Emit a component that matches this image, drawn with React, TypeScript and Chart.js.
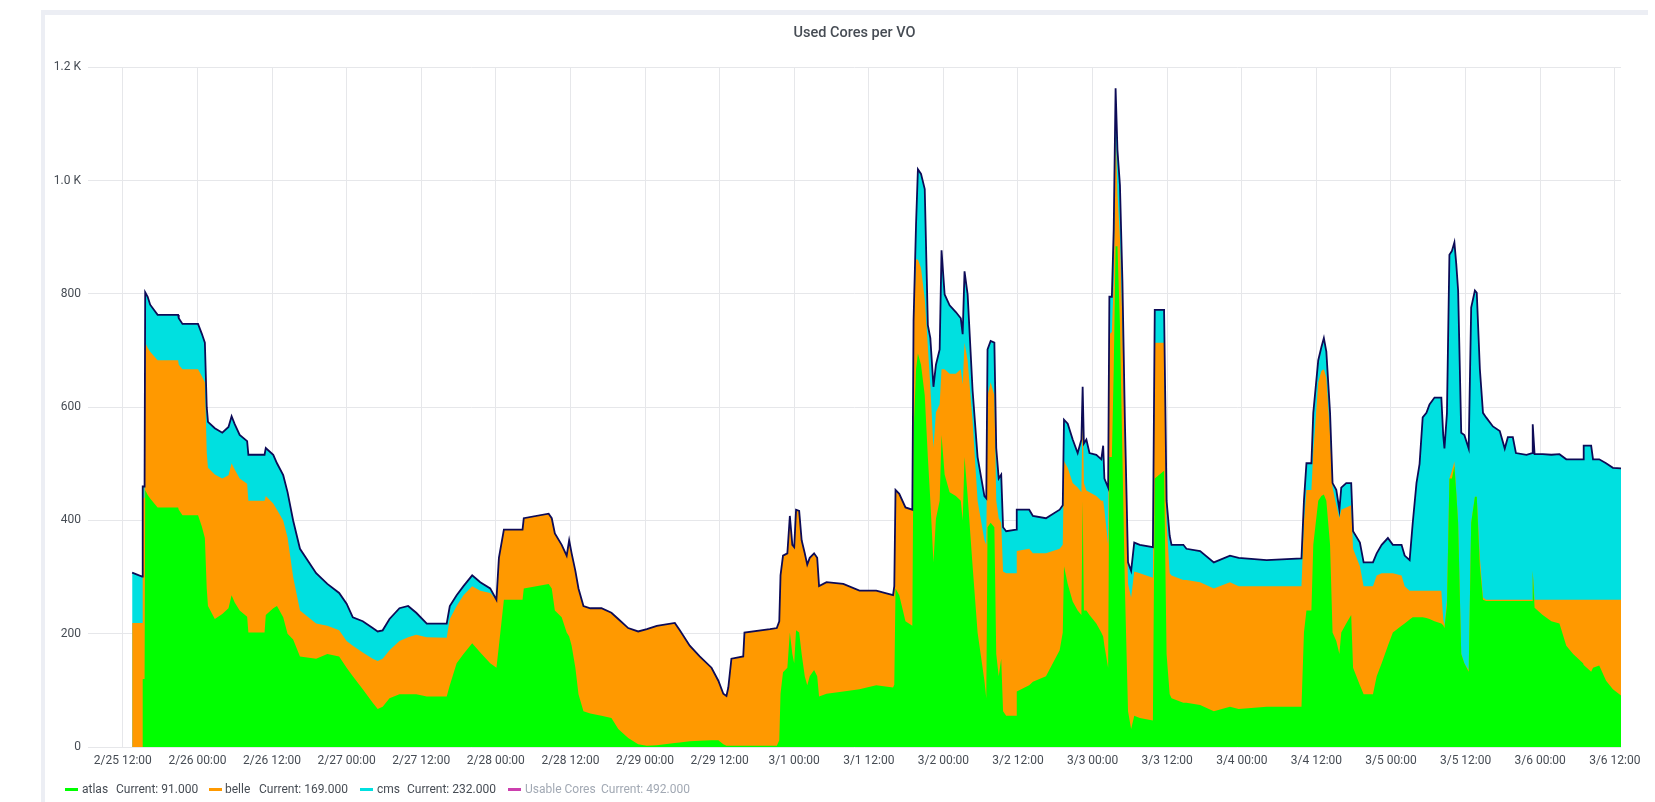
import React, { useEffect, useRef } from 'react';
import { Chart, registerables } from 'chart.js';

Chart.register(...registerables);

// time axis: hours since 2/25 00:00
const hours = [
  13.5, 15.1, 15.2, 15.5, 15.6, 16.0, 16.4, 17.6, 20.9, 21.0,
  21.6, 24.1, 24.7, 25.2, 25.5, 25.7, 26.8, 28.0, 29.0, 29.5,
  30.0, 30.8, 32.0, 32.2, 34.8, 35.0, 36.2, 36.8, 37.8, 38.5,
  39.4, 40.5, 43.1, 44.9, 46.8, 48.0, 49.0, 50.6, 52.2, 53.0,
  53.8, 54.9, 56.5, 57.9, 59.2, 60.9, 64.1, 64.6, 65.7, 66.8,
  68.2, 69.5, 71.1, 72.1, 72.5, 73.3, 76.3, 76.5, 80.5, 81.0,
  81.5, 82.6, 83.4, 83.8, 84.2, 84.8, 85.3, 86.1, 87.2, 89.0,
  90.6, 91.7, 93.3, 94.9, 96.3, 97.9, 100.8, 101.6, 103.2, 104.8,
  106.7, 107.8, 108.6, 109.1, 109.4, 109.9, 111.8, 112.0, 116.1, 117.2,
  117.6, 117.8, 118.2, 118.9, 119.3, 119.7, 120.0, 120.3, 120.8, 121.2,
  121.7, 122.1, 122.5, 123.2, 123.7, 124.0, 125.2, 127.9, 130.5, 133.2,
  135.9, 136.1, 136.3, 136.9, 137.9, 139.0, 139.2, 139.6, 139.9, 140.4,
  141.0, 141.5, 141.9, 142.4, 142.8, 143.4, 143.7, 144.2, 145.0, 146.0,
  146.8, 147.1, 147.4, 147.9, 148.7, 149.5, 150.6, 150.9, 151.1, 151.6,
  152.2, 152.5, 152.9, 153.3, 153.6, 154.1, 155.7, 155.8, 157.8, 158.4,
  160.5, 162.7, 163.2, 163.4, 164.0, 164.8, 165.6, 166.2, 166.4, 166.6,
  167.0, 167.5, 168.6, 169.4, 169.7, 169.9, 170.5, 170.7, 171.1, 171.4,
  171.7, 172.0, 172.4, 172.8, 173.2, 173.7, 174.2, 174.7, 175.6, 177.7,
  178.0, 179.5, 179.9, 180.4, 180.7, 182.6, 183.1, 185.3, 187.5, 190.1,
  191.5, 196.0, 201.6, 202.0, 202.4, 203.2, 203.5, 204.3, 204.8, 205.2,
  205.6, 206.2, 206.6, 207.2, 207.7, 208.0, 208.8, 209.6, 209.9, 211.0,
  211.6, 213.1, 213.7, 214.5, 215.5, 216.3, 217.7, 218.2, 219.0, 219.5,
  220.1, 220.6, 221.1, 221.7, 222.2, 223.0, 224.1, 224.4, 224.6, 225.0,
  225.4, 225.8, 226.2, 226.5, 226.8, 227.3, 227.8, 228.5, 228.9, 229.5,
  229.8, 230.3, 230.8, 231.3, 232.4, 233.5, 234.3, 234.8, 235.6, 236.1,
  237.8, 238.7, 238.8, 239.1, 240.4, 241.8, 243.1, 244.2, 245.3, 246.9,
  247.0, 248.2, 248.5, 249.5, 250.6, 251.7, 253.0,
];

const atlas = [
  0, 0, 120, 120, 454, 445, 439, 423, 423, 419,
  409, 409, 390, 369, 280, 249, 226, 235, 245, 268,
  255, 241, 230, 202, 202, 233, 245, 249, 229, 200,
  190, 160, 156, 164, 160, 140, 125, 102, 78, 67,
  71, 86, 93, 93, 93, 89, 89, 109, 148, 164,
  183, 167, 148, 140, 179, 260, 260, 280, 288, 280,
  241, 229, 202, 195, 179, 140, 93, 63, 59, 55,
  51, 32, 16, 5, 2, 3, 7, 8, 10, 11,
  12, 12, 5, 2, 2, 2, 2, 2, 2, 2,
  12, 94, 132, 140, 202, 164, 148, 206, 202, 164,
  125, 109, 125, 136, 125, 89, 94, 98, 102, 109,
  105, 110, 280, 268, 222, 214, 551, 667, 695, 675,
  621, 512, 435, 326, 403, 435, 551, 481, 450, 443,
  435, 400, 512, 443, 319, 202, 117, 86, 388, 396,
  388, 164, 125, 156, 63, 55, 55, 98, 109, 115,
  125, 171, 202, 319, 288, 257, 241, 233, 435, 241,
  241, 233, 218, 202, 195, 179, 140, 512, 512, 667,
  884, 884, 745, 512, 280, 63, 32, 55, 51, 47,
  474, 488, 164, 93, 86, 78, 78, 74, 63, 71,
  67, 71, 71, 202, 241, 241, 357, 435, 443, 446,
  435, 357, 202, 187, 164, 202, 218, 233, 140, 109,
  93, 93, 125, 148, 179, 202, 214, 218, 225, 229,
  229, 229, 229, 228, 226, 222, 218, 215, 210, 250,
  474, 474, 496, 450, 396, 164, 148, 133, 396, 442,
  442, 319, 260, 258, 258, 258, 258, 258, 258, 258,
  258, 258, 311, 246, 233, 222, 218, 179, 164, 148,
  145, 133, 140, 144, 117, 102, 91,
];

const belle = [
  219, 219, 320, 320, 260, 260, 259, 260, 260, 256,
  258, 258, 265, 275, 240, 244, 255, 239, 235, 233,
  235, 233, 235, 233, 233, 210, 185, 170, 171, 170,
  110, 81, 62, 50, 46, 47, 54, 65, 78, 85,
  85, 85, 94, 101, 105, 105, 104, 117, 101, 104,
  101, 109, 124, 120, 155, 124, 124, 124, 124, 124,
  136, 128, 136, 170, 163, 171, 187, 186, 186, 190,
  186, 194, 194, 199, 206, 211, 212, 198, 169, 149,
  128, 105, 89, 88, 103, 154, 158, 200, 206, 208,
  210, 209, 206, 202, 206, 193, 205, 213, 215, 201,
  217, 213, 209, 206, 209, 195, 197, 190, 174, 167,
  163, 174, 174, 179, 201, 205, 189, 194, 166, 171,
  170, 195, 201, 202, 188, 170, 116, 186, 209, 216,
  232, 240, 202, 240, 255, 233, 248, 271, 233, 248,
  233, 271, 279, 240, 247, 252, 252, 248, 241, 227,
  217, 179, 155, 186, 205, 209, 217, 217, 170, 225,
  212, 217, 225, 233, 240, 240, 217, 217, 221, 155,
  210, 93, 154, 232, 232, 225, 232, 255, 256, 252,
  240, 226, 232, 214, 217, 217, 217, 217, 217, 220,
  217, 213, 213, 194, 213, 213, 163, 209, 221, 221,
  217, 194, 256, 240, 240, 217, 205, 194, 210, 210,
  191, 191, 178, 159, 128, 105, 89, 66, 51, 47,
  47, 47, 47, 48, 50, 54, 58, 11, 4, 10,
  0, 14, 8, 0, 0, 0, 0, 3, 0, 0,
  0, 15, 4, 2, 2, 2, 2, 2, 2, 2,
  2, 2, 0, 14, 27, 38, 42, 81, 96, 112,
  115, 127, 120, 116, 143, 158, 169,
];

const cms = [
  89, 82, 20, 20, 89, 90, 83, 80, 80, 82,
  80, 80, 75, 70, 80, 81, 82, 81, 85, 83,
  80, 77, 75, 81, 81, 85, 86, 82, 80, 80,
  100, 109, 89, 74, 66, 66, 50, 55, 54, 52,
  50, 55, 58, 55, 39, 24, 25, 23, 19, 16,
  19, 15, 8, 0, 0, 0, 0, 0, 0, 0,
  0, 0, 0, 0, 0, 0, 0, 0, 0, 0,
  0, 0, 0, 0, 0, 0, 0, 0, 0, 0,
  0, 0, 0, 0, 0, 0, 0, 0, 0, 0,
  0, 0, 0, 0, 0, 0, 0, 0, 0, 0,
  0, 0, 0, 0, 0, 0, 0, 0, 0, 0,
  0, 0, 0, 0, 0, 0, 13, 62, 159, 166,
  194, 38, 86, 108, 84, 97, 210, 132, 121, 109,
  90, 89, 126, 116, 55, 77, 78, 82, 81, 73,
  93, 93, 70, 85, 78, 74, 77, 73, 69, 66,
  62, 69, 70, 73, 78, 77, 61, 93, 31, 70,
  90, 69, 73, 73, 97, 55, 101, 66, 62, 93,
  69, 77, 93, 78, 62, 38, 47, 51, 50, 54,
  58, 58, 39, 66, 54, 62, 55, 55, 46, 47,
  50, 46, 49, 39, 47, 47, 70, 39, 42, 55,
  46, 39, 8, 27, 15, 39, 43, 39, 31, 42,
  42, 42, 39, 50, 62, 50, 54, 54, 54, 120,
  190, 224, 306, 314, 329, 341, 341, 325, 313, 329,
  395, 388, 387, 403, 410, 391, 403, 391, 380, 364,
  360, 333, 326, 322, 306, 298, 267, 287, 287, 259,
  256, 259, 259, 257, 257, 256, 257, 248, 248, 248,
  272, 272, 248, 248, 241, 233, 232,
];

const xTickHours = [12, 24, 36, 48, 60, 72, 84, 96, 108, 120, 132, 144, 156, 168, 180, 192, 204, 216, 228, 240, 252];
const xTickLabels = [
  '2/25 12:00', '2/26 00:00', '2/26 12:00', '2/27 00:00', '2/27 12:00', '2/28 00:00', '2/28 12:00',
  '2/29 00:00', '2/29 12:00', '3/1 00:00', '3/1 12:00', '3/2 00:00', '3/2 12:00', '3/3 00:00',
  '3/3 12:00', '3/4 00:00', '3/4 12:00', '3/5 00:00', '3/5 12:00', '3/6 00:00', '3/6 12:00',
];

const seriesNames = ['atlas', 'belle', 'cms', 'Usable Cores'];
const seriesColors = ['#00ff00', '#ff9900', '#00e0e0', '#cc3fae'];
const currentValues = ['91.000', '169.000', '232.000', '492.000'];
const TITLE = 'Used Cores per VO';

// legend layout (absolute x positions of marker, name and value)
const legendPos = [
  [65, 82, 116],
  [209, 225, 259],
  [360, 377, 407],
  [508, 525, 601],
];

const TEXT = '#464c54';
const GRID = '#e6e7ea';

export default function App() {
  const ref = useRef<HTMLCanvasElement | null>(null);

  useEffect(() => {
    document.body.style.margin = '0';
    const canvas = ref.current;
    if (!canvas) return;
    const pts = (arr: number[]) => arr.map((v, i) => ({ x: hours[i], y: v }));
    const common = { pointRadius: 0, pointHoverRadius: 0, tension: 0, fill: 'origin' as const };
    const chart = new Chart(canvas, {
      type: 'line',
      data: {
        datasets: [
          { label: seriesNames[0], data: pts(atlas), backgroundColor: seriesColors[0], borderColor: 'rgba(0,0,0,0)', borderWidth: 0, ...common },
          { label: seriesNames[1], data: pts(belle), backgroundColor: seriesColors[1], borderColor: 'rgba(0,0,0,0)', borderWidth: 0, ...common },
          { label: seriesNames[2], data: pts(cms), backgroundColor: seriesColors[2], borderColor: '#0d0b57', borderWidth: 1.8, ...common },
        ],
      },
      options: {
        animation: false,
        responsive: false,
        events: [],
        layout: { padding: { left: 0, right: 34, top: 0, bottom: 25 } },
        plugins: {
          legend: { display: false },
          tooltip: { enabled: false },
          filler: { drawTime: 'beforeDatasetsDraw' },
          title: {
            display: true,
            fullSize: false,
            text: TITLE,
            color: TEXT,
            font: { family: 'Roboto', size: 14.5, weight: '500' },
            padding: { top: 10, bottom: 25 },
          },
        },
        scales: {
          x: {
            type: 'linear',
            min: 6.4,
            max: 253,
            grid: { color: GRID, drawTicks: false, lineWidth: 1 },
            border: { display: false },
            ticks: {
              autoSkip: false,
              maxRotation: 0,
              minRotation: 0,
              padding: 7,
              color: TEXT,
              font: { family: 'Roboto', size: 12 },
              callback: (v: any) => {
                const i = xTickHours.indexOf(Number(v));
                return i >= 0 ? xTickLabels[i] : '';
              },
            },
            afterBuildTicks: (s: any) => {
              s.ticks = xTickHours.map((v) => ({ value: v }));
            },
            afterFit: (s: any) => {
              s.height = 30;
            },
          },
          y: {
            stacked: true,
            min: 0,
            max: 1200,
            grid: { color: GRID, drawTicks: false, lineWidth: 1 },
            border: { display: false },
            ticks: {
              stepSize: 200,
              padding: 7,
              color: TEXT,
              font: { family: 'Roboto', size: 12 },
              callback: (v: any) => (Number(v) >= 1000 ? (Number(v) / 1000).toFixed(1) + ' K' : String(v)),
            },
            afterFit: (s: any) => {
              s.width = 43;
            },
          },
        },
      },
    });
    return () => chart.destroy();
  }, []);

  return (
    <div style={{ position: 'fixed', left: 0, top: 0, width: 1655, height: 802, background: '#ffffff', overflow: 'hidden', fontFamily: 'Roboto, sans-serif' }}>
      <div style={{ position: 'absolute', left: 41, top: 10, width: 1607, height: 5, background: '#eceef4' }} />
      <div style={{ position: 'absolute', left: 41, top: 10, width: 4, height: 792, background: '#eceef4' }} />
      <div style={{ position: 'absolute', left: 45, top: 15, width: 1610, height: 787 }}>
        <canvas ref={ref} width={1610} height={787} style={{ display: 'block', width: 1610, height: 787 }} />
      </div>
      {seriesNames.map((name, i) => {
        const [mx, nx, vx] = legendPos[i];
        const col = i === 3 ? '#a2a9b4' : TEXT;
        return (
          <React.Fragment key={name}>
            <div style={{ position: 'absolute', left: mx, top: 788, width: 13, height: 3, background: seriesColors[i] }} />
            <div style={{ position: 'absolute', left: nx, top: 782, fontSize: 12, lineHeight: '14px', color: col, whiteSpace: 'nowrap' }}>{name}</div>
            <div style={{ position: 'absolute', left: vx, top: 782, fontSize: 12, lineHeight: '14px', color: col, whiteSpace: 'nowrap' }}>{'Current: ' + currentValues[i]}</div>
          </React.Fragment>
        );
      })}
    </div>
  );
}
